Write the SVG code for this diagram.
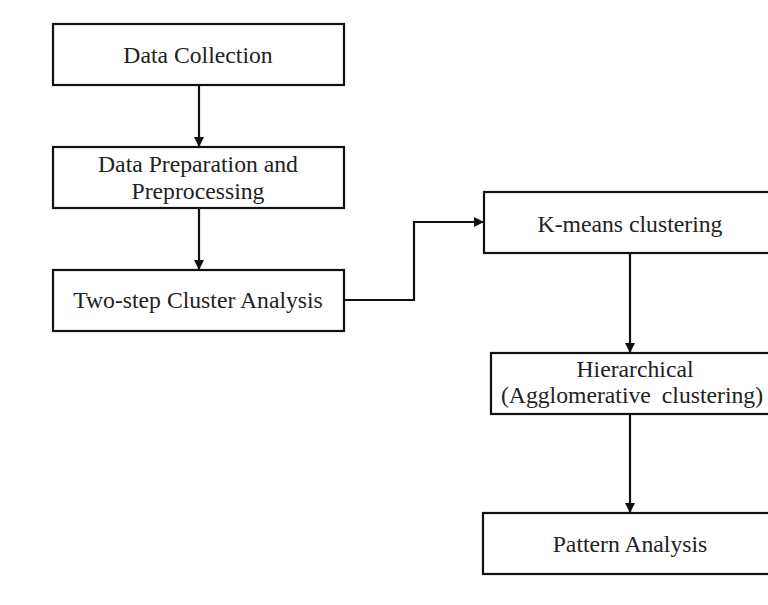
<svg xmlns="http://www.w3.org/2000/svg" width="768" height="605" viewBox="0 0 768 605">
<style>
.box{fill:#fff;stroke:#111;stroke-width:2.2}
.t{font-family:"Liberation Serif","Times New Roman",serif;font-size:23.7px;fill:#222;text-anchor:middle}
.c{fill:none;stroke:#111;stroke-width:2.2}
</style>
<defs>
<marker id="ah" viewBox="0 0 10 10" refX="10" refY="5" markerWidth="10" markerHeight="10" markerUnits="userSpaceOnUse" orient="auto">
<path d="M0,0 L10,5 L0,10 Z" fill="#111"/>
</marker>
</defs>
<rect width="768" height="605" fill="#fff"/>
<g id="connectors">
<line class="c" x1="199" y1="85" x2="199" y2="147" marker-end="url(#ah)"/>
<line class="c" x1="199" y1="208" x2="199" y2="270" marker-end="url(#ah)"/>
<polyline class="c" points="344,300 414,300 414,222 484,222" marker-end="url(#ah)"/>
<line class="c" x1="630" y1="253" x2="630" y2="353" marker-end="url(#ah)"/>
<line class="c" x1="630" y1="414" x2="630" y2="513" marker-end="url(#ah)"/>
</g>
<g id="data-collection">
<rect class="box" x="53" y="24" width="291" height="61"/>
<text class="t" x="198" y="63">Data Collection</text>
</g>
<g id="data-preparation">
<rect class="box" x="53" y="147" width="291" height="61"/>
<text class="t" x="198" y="172">Data Preparation and</text>
<text class="t" x="198" y="199">Preprocessing</text>
</g>
<g id="two-step">
<rect class="box" x="53" y="270" width="291" height="61"/>
<text class="t" x="198" y="308">Two-step Cluster Analysis</text>
</g>
<g id="kmeans">
<rect class="box" x="484" y="192" width="300" height="61"/>
<text class="t" x="630" y="232">K-means clustering</text>
</g>
<g id="hierarchical">
<rect class="box" x="491" y="353" width="300" height="61"/>
<text class="t" x="635" y="377">Hierarchical</text>
<text class="t" x="632" y="403" word-spacing="5">(Agglomerative clustering)</text>
</g>
<g id="pattern">
<rect class="box" x="483" y="513" width="300" height="61"/>
<text class="t" x="630" y="552">Pattern Analysis</text>
</g>
</svg>
